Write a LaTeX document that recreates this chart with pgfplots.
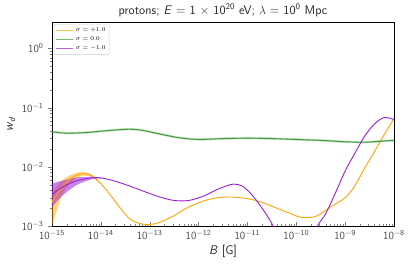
\documentclass[border=0pt]{standalone}
\usepackage{fontspec}
\usepackage{pgfplots}
\pgfplotsset{compat=1.18}
\definecolor{corange}{HTML}{FFA500}
\definecolor{cgreen}{HTML}{3A9A3A}
\definecolor{cpurple}{HTML}{9B1FD8}
\begin{document}
\sffamily
\begin{tikzpicture}
\begin{axis}[
  scale only axis, width=342bp, height=204bp,
  xmode=log, ymode=log,
  xmin=1e-15, xmax=1e-8, ymin=1e-3, ymax=2.8,
  xtick={1e-15,1e-14,1e-13,1e-12,1e-11,1e-10,1e-9,1e-8},
  xticklabels={10\textsuperscript{−15},10\textsuperscript{−14},10\textsuperscript{−13},10\textsuperscript{−12},10\textsuperscript{−11},10\textsuperscript{−10},10\textsuperscript{−9},10\textsuperscript{−8}},
  ytick={1e-3,1e-2,1e-1,1},
  yticklabels={10\textsuperscript{−3},10\textsuperscript{−2},10\textsuperscript{−1},10\textsuperscript{0}},
  xtick pos=bottom, ytick pos=left, xtick align=inside, ytick align=outside,
  major tick length=4bp, minor tick length=2bp,
  tick label style={font=\sffamily\fontsize{11}{12}\selectfont, text=black!70},
  xticklabel style={yshift=-1bp},
  yticklabel style={xshift=-1bp},
  xlabel={\textit{B} [G]}, ylabel={\textit{w}\textsubscript{\textit{d}}},
  label style={font=\sffamily\fontsize{12.5}{14}\selectfont, text=black!85},
  xlabel style={yshift=2bp},
  title={protons; \textit{E} = 1 × 10\textsuperscript{20} eV; $\lambda$ = 10\textsuperscript{0} Mpc},
  title style={font=\sffamily\fontsize{12.5}{14}\selectfont, text=black!85, yshift=-4bp},
  legend style={font=\fontsize{6}{7}\selectfont, at={(0.006,0.99)}, anchor=north west, draw=black!20, rounded corners=1pt, inner sep=1.5pt, row sep=-0.3pt},
  legend image post style={opacity=0.7, line width=1.2pt},
  legend cell align=left,
  clip=true,
]
% bands
\addplot[forget plot, smooth, fill=corange, fill opacity=0.5, draw=none] coordinates {
(1e-15,0.0038) (1.585e-15,0.0058) (2.512e-15,0.0074) (3.981e-15,0.0082) (6.31e-15,0.0075) (1e-14,0.0053)
(1e-14,0.0051) (6.31e-15,0.0068) (3.981e-15,0.0070) (2.512e-15,0.0056) (1.585e-15,0.0032) (1e-15,0.0010)} -- cycle;
\addplot[forget plot, smooth, fill=cpurple, fill opacity=0.55, draw=none] coordinates {
(1e-15,0.0052) (1.585e-15,0.0058) (3.162e-15,0.0066) (6.31e-15,0.0068) (1e-14,0.0066)
(1e-14,0.0064) (6.31e-15,0.0061) (3.162e-15,0.0049) (1.585e-15,0.0032) (1e-15,0.0021)} -- cycle;
% orange sigma=+1
\addplot[corange, line width=0.9pt, smooth] coordinates {
(1e-15,0.0025) (1.585e-15,0.0045) (2.512e-15,0.0065) (3.981e-15,0.0076) (6.31e-15,0.0072)
(1e-14,0.0052) (1.585e-14,0.0033) (2.512e-14,0.0020) (3.981e-14,0.0013) (6.31e-14,0.00110)
(1e-13,0.00106) (1.585e-13,0.00115) (3.162e-13,0.0015) (6.31e-13,0.0021) (1.585e-12,0.0028)
(3.981e-12,0.0031) (1e-11,0.0029) (1.995e-11,0.0025) (3.981e-11,0.0020) (7.943e-11,0.0016)
(1.259e-10,0.0014) (2.512e-10,0.00145) (5.012e-10,0.0021) (1e-9,0.0030) (1.585e-9,0.0048)
(2.512e-9,0.0095) (3.981e-9,0.018) (6.31e-9,0.035) (1e-8,0.065)};
\addlegendentry{$\sigma=+1.0$}
% green sigma=0
\addplot[cgreen, line width=2.2pt, opacity=0.35, smooth, forget plot] coordinates {
(1e-15,0.039) (1.995e-15,0.037) (5.012e-15,0.038) (1e-14,0.040) (3.162e-14,0.043) (6.31e-14,0.042)
(1.585e-13,0.036) (3.981e-13,0.031) (1e-12,0.029) (3.162e-12,0.030) (1e-11,0.0305) (3.162e-11,0.030)
(1e-10,0.029) (3.162e-10,0.028) (1e-9,0.0265) (2.512e-9,0.026) (5.012e-9,0.027) (1e-8,0.028)};
\addplot[cgreen, line width=0.9pt, smooth] coordinates {
(1e-15,0.039) (1.995e-15,0.037) (5.012e-15,0.038) (1e-14,0.040) (3.162e-14,0.043) (6.31e-14,0.042)
(1.585e-13,0.036) (3.981e-13,0.031) (1e-12,0.029) (3.162e-12,0.030) (1e-11,0.0305) (3.162e-11,0.030)
(1e-10,0.029) (3.162e-10,0.028) (1e-9,0.0265) (2.512e-9,0.026) (5.012e-9,0.027) (1e-8,0.028)};
\addlegendentry{$\sigma=0.0$}
% purple sigma=-1
\addplot[cpurple, line width=0.9pt, smooth] coordinates {
(1e-15,0.0034) (1.585e-15,0.0045) (3.162e-15,0.0058) (6.31e-15,0.0065) (1e-14,0.0065)
(1.995e-14,0.0057) (3.981e-14,0.0047) (7.943e-14,0.0038) (1.585e-13,0.0031) (3.162e-13,0.0027)
(6.31e-13,0.0027) (1.259e-12,0.0032) (2.512e-12,0.0042) (5.012e-12,0.0051) (7.943e-12,0.0047)
(1.259e-11,0.0033) (1.995e-11,0.0020) (3.162e-11,0.0011) (5.012e-11,0.0005) (1e-10,0.0002)
(1.585e-10,0.0003) (2.512e-10,0.0009) (3.981e-10,0.0016) (6.31e-10,0.0036) (1e-9,0.0085)
(1.585e-9,0.017) (2.512e-9,0.033) (3.981e-9,0.053) (6.31e-9,0.068) (1e-8,0.063)};
\addlegendentry{$\sigma=-1.0$}
\end{axis}
\path ([shift={(-52bp,-42bp)}]current axis.south west) rectangle ([shift={(17bp,22bp)}]current axis.north east);
\end{tikzpicture}
\end{document}
